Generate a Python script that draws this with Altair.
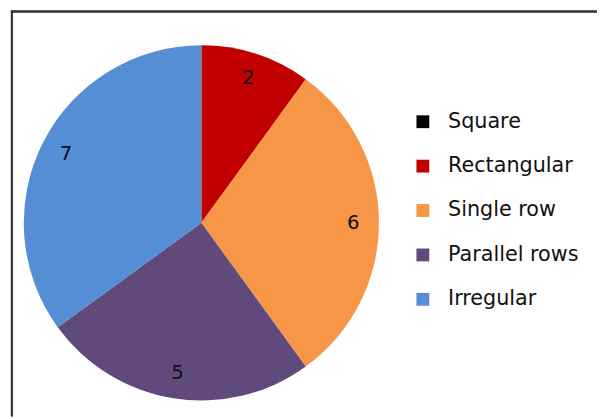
import altair as alt
import pandas as pd

categories = ["Square", "Rectangular", "Single row", "Parallel rows", "Irregular"]
values = [0, 2, 6, 5, 7]
colors = ["#000000", "#C00000", "#F79646", "#604A7B", "#558ED5"]

df = pd.DataFrame({"cat": categories, "val": values, "ord": list(range(len(categories)))})

color = alt.Color(
    "cat:N",
    scale=alt.Scale(domain=categories, range=colors),
    sort=categories,
    legend=alt.Legend(
        title=None,
        orient="none",
        legendX=407,
        legendY=102,
        symbolType="square",
        symbolSize=169,
        symbolStrokeWidth=0,
        labelFontSize=21,
        labelFont="DejaVu Sans",
        labelColor="#111",
        rowPadding=23,
        labelOffset=15,
    ),
)

base = alt.Chart(df).encode(
    theta=alt.Theta("val:Q", stack=True),
    order=alt.Order("ord:Q"),
)

cx, cy = 193, 215

pie = base.mark_arc(radius=180, stroke=None).encode(
    color=color,
    x=alt.value(cx),
    y=alt.value(cy),
)

labels = base.mark_text(radius=154, fontSize=20, font="DejaVu Sans", color="#111").encode(
    text=alt.Text("label:N"),
    x=alt.value(cx),
    y=alt.value(cy),
).transform_calculate(label="datum.val > 0 ? datum.val : ''")

left_border = alt.Chart(df).mark_rule(color="#333333", strokeWidth=1.5).encode(
    x=alt.value(0.75), y=alt.value(0), y2=alt.value(411)
)
top_border = alt.Chart(df).mark_rule(color="#333333", strokeWidth=1.5).encode(
    y=alt.value(0.75), x=alt.value(0), x2=alt.value(594)
)

chart = (
    alt.layer(pie, labels, left_border, top_border)
    .properties(
        width=594,
        height=411,
        autosize=alt.AutoSizeParams(type="none"),
        padding={"left": 3, "top": 0, "right": 0, "bottom": 0},
        background="white",
    )
    .configure_view(stroke=None)
)

chart.save("out.html", embed_options={"renderer": "svg", "actions": False})
